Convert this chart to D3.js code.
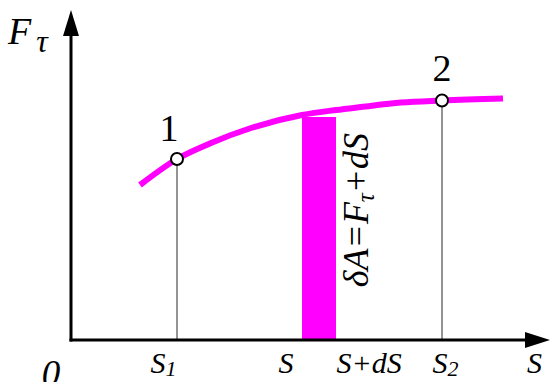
<!DOCTYPE html>
<html>
<head>
<meta charset="utf-8">
<script src="https://cdn.jsdelivr.net/npm/d3@7"></script>
<style>
  html, body { margin: 0; padding: 0; background: #fff; }
  svg { display: block; }
  text { font-family: "Liberation Serif", "Times New Roman", Times, serif; fill: #000; }
</style>
</head>
<body>
<svg id="chart" width="551" height="382"></svg>
<script>
// Tangential force curve F_tau(S) and the elementary work strip
const curveS = [6.9, 10.6, 14, 18, 23.1, 26.5, 29, 33, 37.1, 43.2];
const curveF = [15.5, 18.1, 19.7, 21.2, 22.5, 23.0, 23.3, 23.75, 23.95, 24.15];

// Marked states 1 and 2
const pointNames = ["1", "2"];
const pointS = [10.6, 37.1];
const pointF = [18.1, 23.95];

// Strip between S and S+dS
const stripS = [23.1, 26.5];
const stripF = 22.3;

// Axis tick labels: [main letter, subscript]
const tickValues = [10.6, 23.1, 26.5, 37.1];
const tickLabels = [["S", "1"], ["S", ""], ["S+dS", ""], ["S", "2"]];

const svg = d3.select("#chart");
const MAGENTA = "#ff00ff";
const SERIF = '"Liberation Serif", "Times New Roman", Times, serif';

const x = d3.scaleLinear().domain([0, 48]).range([71, 551]);
const y = d3.scaleLinear().domain([0, 33]).range([340, 10]);

// Vertical guide lines under points 1 and 2
svg.append("g").selectAll("line")
  .data(pointS)
  .join("line")
  .attr("x1", d => x(d)).attr("x2", d => x(d))
  .attr("y1", (d, i) => y(pointF[i])).attr("y2", y(0))
  .attr("stroke", "#707070").attr("stroke-width", 1.5);

// Strip
svg.append("rect")
  .attr("x", x(stripS[0]))
  .attr("width", x(stripS[1]) - x(stripS[0]))
  .attr("y", y(stripF))
  .attr("height", y(0) - y(stripF))
  .attr("fill", MAGENTA);

// Curve
const line = d3.line()
  .x((d, i) => x(curveS[i]))
  .y(d => y(d))
  .curve(d3.curveMonotoneX);
svg.append("path")
  .attr("d", line(curveF))
  .attr("fill", "none")
  .attr("stroke", MAGENTA)
  .attr("stroke-width", 6);

// Axes
const ax = svg.append("g");
ax.append("line")
  .attr("x1", x(0)).attr("x2", x(0))
  .attr("y1", y(0) + 1.5).attr("y2", 30)
  .attr("stroke", "#000").attr("stroke-width", 3);
ax.append("path")
  .attr("d", `M${x(0)},10 L${x(0) - 8},36 L${x(0) + 8},36 Z`)
  .attr("fill", "#000");
ax.append("line")
  .attr("x1", x(0) - 1.5).attr("x2", 530)
  .attr("y1", y(0)).attr("y2", y(0))
  .attr("stroke", "#000").attr("stroke-width", 3);
ax.append("path")
  .attr("d", `M550,${y(0)} L525,${y(0) - 8} L525,${y(0) + 8} Z`)
  .attr("fill", "#000");

// Tick labels via axisBottom
const anchors = ["end", "end", "start", "middle"];
const dxs = [-1, -9, 0, 3];
const xAxis = d3.axisBottom(x)
  .tickValues(tickValues)
  .tickSize(0)
  .tickFormat(() => "");
const gx = svg.append("g")
  .attr("transform", `translate(0,${y(0)})`)
  .call(xAxis);
gx.select(".domain").remove();
gx.selectAll(".tick text").each(function(d, i) {
  const t = d3.select(this)
    .attr("y", 33).attr("dy", 0)
    .attr("dx", dxs[i])
    .attr("text-anchor", anchors[i])
    .attr("fill", "#000")
    .style("font-family", SERIF)
    .style("font-style", "italic")
    .style("font-size", "30px");
  t.text(null);
  t.append("tspan").text(tickLabels[i][0]);
  if (tickLabels[i][1]) {
    t.append("tspan").attr("dy", 3).style("font-size", "22px").text(tickLabels[i][1]);
  }
});

// Axis titles
svg.append("text")
  .attr("x", 527).attr("y", 373)
  .style("font-style", "italic").style("font-size", "30px")
  .text("S");
svg.append("text")
  .attr("x", 51).attr("y", 386)
  .attr("text-anchor", "middle")
  .style("font-style", "italic").style("font-size", "37px")
  .text("0");
const ft = svg.append("text")
  .attr("x", 8).attr("y", 44)
  .style("font-style", "italic").style("font-size", "38px");
ft.append("tspan").text("F");
ft.append("tspan").attr("dx", 5).attr("dy", 8).style("font-size", "32px").text("τ");

// Points
svg.append("g").selectAll("circle")
  .data(pointS)
  .join("circle")
  .attr("cx", d => x(d))
  .attr("cy", (d, i) => y(pointF[i]))
  .attr("r", 6)
  .attr("fill", "#fff")
  .attr("stroke", "#000")
  .attr("stroke-width", 2);

svg.append("g").selectAll("text")
  .data(pointS)
  .join("text")
  .attr("x", (d, i) => x(d) + (i === 0 ? -8 : 0))
  .attr("y", (d, i) => y(pointF[i]) - (i === 0 ? 18 : 20))
  .attr("text-anchor", "middle")
  .style("font-size", "38px")
  .text((d, i) => pointNames[i]);

// Rotated work expression next to the strip
const lx = x(stripS[1]) + 32, ly = 210;
const lab = svg.append("text")
  .attr("transform", `translate(${lx},${ly}) rotate(-90)`)
  .attr("text-anchor", "middle")
  .style("font-style", "italic")
  .style("font-size", "36px");
lab.append("tspan").text("δA=F");
lab.append("tspan").attr("dy", 6).style("font-size", "25px").text("τ");
lab.append("tspan").attr("dy", -6).text("+dS");
</script>
</body>
</html>
